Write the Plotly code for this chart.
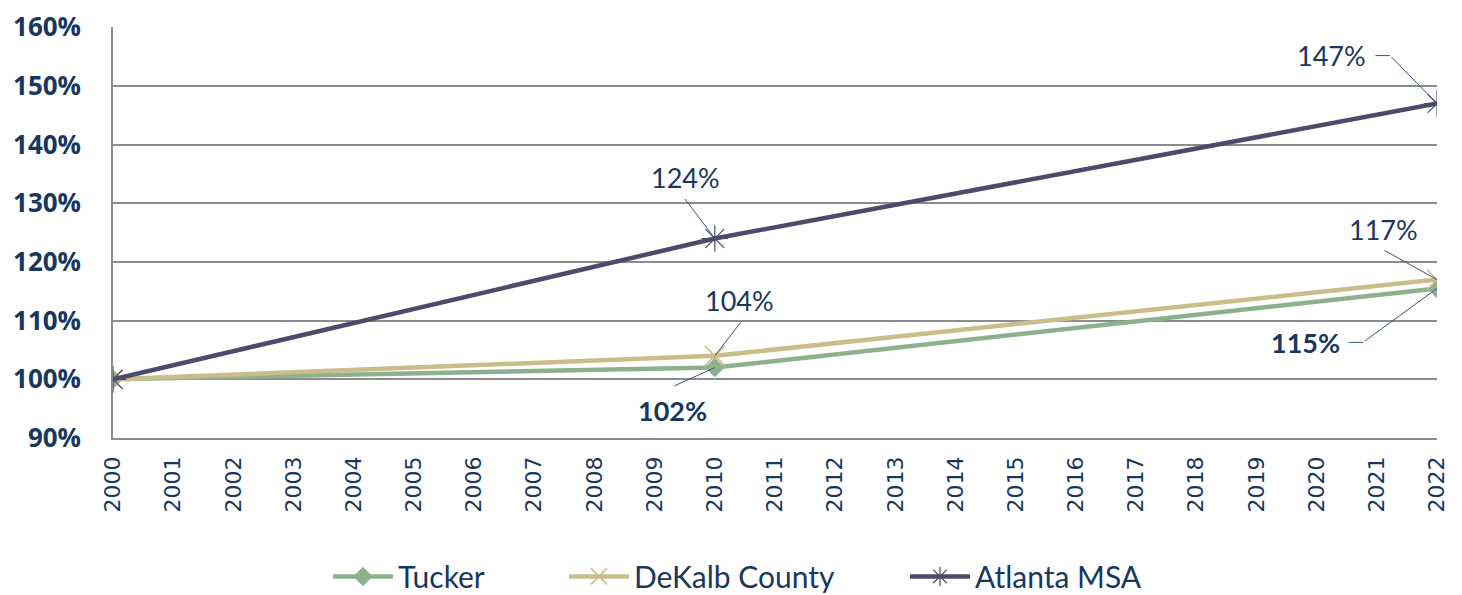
import plotly.graph_objects as go

years = [2000, 2010, 2022]
tucker = [100, 102, 115.5]
dekalb = [100, 104, 117]
atlanta = [100, 124, 147]
tick_years = list(range(2000, 2023))
y_ticks = [90, 100, 110, 120, 130, 140, 150, 160]

TXT = "#17375E"
C_TUCKER = "#8DB18D"
C_DEKALB = "#CBBC8C"
C_ATL = "#4B4B6D"

fig = go.Figure()
fig.add_trace(go.Scatter(x=years, y=tucker, name="Tucker", mode="lines+markers", legend="legend",
                         line=dict(color=C_TUCKER, width=4.5),
                         marker=dict(symbol="diamond", size=15, color=C_TUCKER)))
fig.add_trace(go.Scatter(x=years, y=dekalb, name="DeKalb County", mode="lines+markers", legend="legend2",
                         line=dict(color=C_DEKALB, width=4.5),
                         marker=dict(symbol="x-thin-open", size=20, line=dict(color=C_DEKALB, width=1.5))))
fig.add_trace(go.Scatter(x=years, y=atlanta, name="Atlanta MSA", mode="lines+markers", legend="legend3",
                         line=dict(color=C_ATL, width=4.5),
                         marker=dict(symbol="asterisk-open", size=22, line=dict(color=C_ATL, width=1.2))))

# label specs: (x, y, text, bold, text offset, leader tail offset, bend)
labels = [
    (2022, atlanta[2], "147%", False, (-106, 48), (-47, -48), True),
    (2010, atlanta[1], "124%", False, (-29, 61), (-31, -41), False),
    (2010, dekalb[1], "104%", False, (25, 55), (27, -35), False),
    (2010, tucker[1], "102%", True, (-42, -43), (-42, 19), False),
    (2022, dekalb[2], "117%", False, (-54, 50), (-54, -30), False),
    (2022, tucker[2], "115%", True, (-132, -54), (-74, 54), True),
]
for x, y, t, bold, (tx, ty), (ax, ay), bend in labels:
    txt = f"<b>{t}</b>" if bold else t
    fig.add_annotation(x=x, y=y, text=txt, showarrow=False, xshift=tx, yshift=ty,
                       font=dict(family="Lato", size=27, color=TXT))
    fig.add_annotation(x=x, y=y, text="", showarrow=True, arrowhead=0, arrowwidth=1,
                       arrowcolor="#3A5578", ax=ax, ay=ay, standoff=0)
    if bend:
        fig.add_annotation(x=x, y=y, text="", showarrow=True, arrowhead=0, arrowwidth=1,
                           arrowcolor="#3A5578", xshift=ax, yshift=-ay, ax=-16, ay=0, standoff=0)

leg_common = dict(orientation="h", xref="container", yref="container", xanchor="left",
                  y=0.001, yanchor="bottom", itemwidth=60, bgcolor="rgba(0,0,0,0)",
                  font=dict(family="Lato", size=30, color=TXT))
fig.update_layout(
    width=1462, height=595,
    margin=dict(l=105, r=33, t=19, b=165, autoexpand=False),
    plot_bgcolor="white", paper_bgcolor="white",
    showlegend=True,
    legend=dict(x=320 / 1462, **leg_common),
    legend2=dict(x=556 / 1462, **leg_common),
    legend3=dict(x=897 / 1462, **leg_common),
)
fig.update_xaxes(range=[2000, 2022], tickmode="array", tickvals=tick_years,
                 ticktext=[str(v) for v in tick_years], tickangle=-90, automargin=False,
                 tickfont=dict(family="DejaVu Sans", size=22, color=TXT),
                 showgrid=False, zeroline=False, showline=True, linecolor="#8C8C8C", linewidth=1.5,
                 ticks="outside", ticklen=8, tickcolor="white", ticklabeloverflow="allow")
fig.update_yaxes(range=[90, 160.05], tickmode="array", tickvals=y_ticks, automargin=False,
                 ticktext=[f"{v}%" for v in y_ticks],
                 tickfont=dict(family="Open Sans", size=26, color=TXT, weight="bold"),
                 showgrid=True, gridcolor="#8C8C8C", gridwidth=1.5, zeroline=False,
                 showline=True, linecolor="#8C8C8C", linewidth=1.5,
                 ticks="outside", ticklen=25, tickcolor="rgba(0,0,0,0)", ticklabeloverflow="allow")

fig.write_html("out.html")
